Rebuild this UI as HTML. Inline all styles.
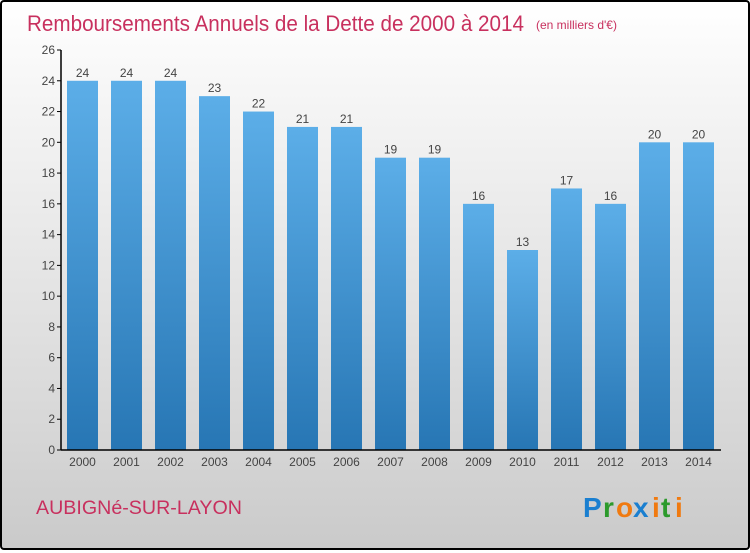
<!DOCTYPE html>
<html><head><meta charset="utf-8"><style>
html,body{margin:0;padding:0}
body{width:750px;height:550px;overflow:hidden;font-family:"Liberation Sans",sans-serif}
#frame{position:absolute;left:0;top:0;width:746px;height:546px;border:2px solid #000;border-radius:4px;background:linear-gradient(#ffffff,#f4f4f4 20%,#d6d6d6 80%,#cacaca)}
</style></head><body>
<div id="frame">
<svg width="746" height="546" viewBox="2 2 746 546" id="chart">
<defs><linearGradient id="bg" x1="0" y1="0" x2="0" y2="1"><stop offset="0" stop-color="#5caee8"/><stop offset="1" stop-color="#2776b4"/></linearGradient></defs>
<text x="27" y="31" font-size="22" fill="#c8305e" textLength="497" lengthAdjust="spacingAndGlyphs">Remboursements Annuels de la Dette de 2000 à 2014</text>
<text x="536" y="29" font-size="12" fill="#c8305e">(en milliers d'€)</text>
<g id="yaxis"></g>
<g id="bars"></g>
<g id="xaxis"></g>
<text x="36" y="514" font-size="19" fill="#c8305e" textLength="206" lengthAdjust="spacingAndGlyphs">AUBIGNé-SUR-LAYON</text>
<g font-size="28" font-weight="bold" font-family="Liberation Sans, sans-serif">
<text x="583" y="517" fill="#1a7fd0">P</text><text x="603" y="517" fill="#2c9a2c">r</text><text x="616" y="517" fill="#f07a10">o</text><text x="633" y="517" fill="#1a7fd0">x</text><text x="652" y="517" fill="#f07a10">i</text><text x="661" y="517" fill="#2c9a2c">t</text><text x="675" y="517" fill="#f07a10">i</text>
</g>
</svg>
</div>
<script>
const categories=["2000","2001","2002","2003","2004","2005","2006","2007","2008","2009","2010","2011","2012","2013","2014"];
const values=[24,24,24,23,22,21,21,19,19,16,13,17,16,20,20];
const yTicks=[0,2,4,6,8,10,12,14,16,18,20,22,24,26];
const NS="http://www.w3.org/2000/svg";
const y0=450,yTop=50,yMax=26,xLeft=67,step=44,bw=31;
const y=v=>y0-(v/yMax)*(y0-yTop);
const x=i=>xLeft+i*step;
function mk(t,a,p){const e=document.createElementNS(NS,t);for(const k in a)e.setAttribute(k,a[k]);p.appendChild(e);return e;}
const ya=document.getElementById('yaxis'),ba=document.getElementById('bars'),xa=document.getElementById('xaxis');
const al=mk('line',{x1:61,y1:yTop,x2:61,y2:y0,stroke:'#000','stroke-width':1.5},ya);


yTicks.forEach(v=>{
 const tk=mk('line',{x1:57,x2:61,y1:y(v),y2:y(v),stroke:'#000'},ya);
 
 
 const t=mk('text',{x:55,y:y(v)+4,'font-size':12,'text-anchor':'end',fill:'#444'},ya);
 t.textContent=v;
 
 
});
values.forEach((v,i)=>{
 const r=mk('rect',{x:x(i),y:y(v),width:bw,height:y0-y(v),fill:'url(#bg)'},ba);
 
 
 const t=mk('text',{x:x(i)+bw/2,y:y(v)-4,'font-size':12,'text-anchor':'middle',fill:'#444'},ba);
 t.textContent=v;
 
 
 const c=mk('text',{x:x(i)+bw/2,y:466,'font-size':12,'text-anchor':'middle',fill:'#444'},xa);
 c.textContent=categories[i];
 
 
});
const xl=mk('line',{x1:61,y1:y0,x2:721,y2:y0,stroke:'#000','stroke-width':1.5},xa);


</script>
</body></html>
